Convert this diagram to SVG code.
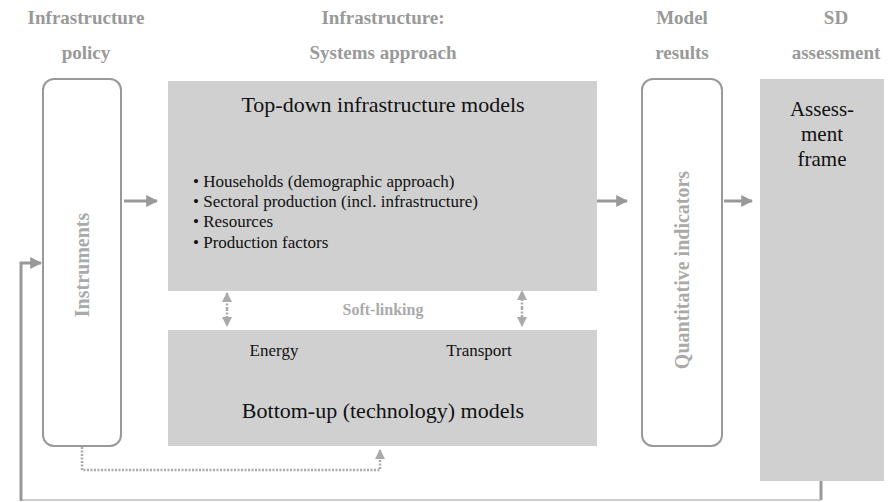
<svg xmlns="http://www.w3.org/2000/svg" width="889" height="502" viewBox="0 0 889 502">
<defs>
<marker id="ah" viewBox="0 0 10 10" refX="9" refY="5" markerWidth="4" markerHeight="4" orient="auto" markerUnits="strokeWidth">
<polygon points="0,0 10,5 0,10" fill="#999"/>
</marker>
<marker id="ahd" viewBox="0 0 10 10" refX="9" refY="5" markerWidth="4" markerHeight="4" orient="auto" markerUnits="strokeWidth">
<polygon points="0,0 10,5 0,10" fill="#aaa"/>
</marker>
</defs>
<rect width="889" height="502" fill="#fff"/>
<g id="headers" font-family="Times New Roman" font-weight="bold" font-size="19" fill="#999" text-anchor="middle">
<text x="86" y="24">Infrastructure</text>
<text x="86" y="59">policy</text>
<text x="383" y="24">Infrastructure:</text>
<text x="383" y="59">Systems approach</text>
<text x="682" y="24">Model</text>
<text x="682" y="59">results</text>
<text x="836" y="24">SD</text>
<text x="836" y="59">assessment</text>
</g>
<g id="instruments">
<rect x="43" y="79" width="78" height="367" rx="11" fill="#fff" stroke="#999" stroke-width="2"/>
<text font-family="Times New Roman" font-weight="bold" font-size="20" fill="#aaa" text-anchor="middle" transform="translate(89,265) rotate(-90)">Instruments</text>
</g>
<g id="topdown" font-family="Times New Roman" fill="#111">
<rect x="168" y="81" width="429" height="210" fill="#d0d0d0"/>
<text x="383" y="112" font-size="22" text-anchor="middle">Top-down infrastructure models</text>
<text x="193" y="187" font-size="17">• Households (demographic approach)</text>
<text x="193" y="207" font-size="17">• Sectoral production (incl. infrastructure)</text>
<text x="193" y="227" font-size="17">• Resources</text>
<text x="193" y="248" font-size="17">• Production factors</text>
</g>
<g id="bottomup" font-family="Times New Roman" fill="#111">
<rect x="168" y="330" width="429" height="116" fill="#d0d0d0"/>
<text x="274" y="356" font-size="17" text-anchor="middle">Energy</text>
<text x="479" y="356" font-size="17" text-anchor="middle">Transport</text>
<text x="383" y="418" font-size="22" text-anchor="middle">Bottom-up (technology) models</text>
</g>
<g id="softlinking">
<text font-family="Times New Roman" x="383" y="315" font-size="16" font-weight="bold" fill="#aaa" text-anchor="middle">Soft-linking</text>
</g>
<g id="quantitative">
<rect x="642" y="79" width="80" height="367" rx="11" fill="#fff" stroke="#999" stroke-width="2"/>
<text font-family="Times New Roman" font-weight="bold" font-size="20" fill="#aaa" text-anchor="middle" transform="translate(689,270) rotate(-90)">Quantitative indicators</text>
</g>
<g id="assessment" font-family="Times New Roman" fill="#111" font-size="21" text-anchor="middle">
<rect x="760" y="79" width="124" height="402" fill="#d0d0d0"/>
<text x="822" y="116">Assess-</text>
<text x="822" y="141">ment</text>
<text x="822" y="166">frame</text>
</g>
<g id="connectors" fill="none">
<line stroke="#999" stroke-width="3" x1="124" y1="201" x2="157" y2="201" marker-end="url(#ah)"/>
<line stroke="#999" stroke-width="3" x1="597" y1="201" x2="627" y2="201" marker-end="url(#ah)"/>
<line stroke="#999" stroke-width="3" x1="724" y1="201" x2="752" y2="201" marker-end="url(#ah)"/>
<g stroke="#aaa" stroke-width="2.5" stroke-dasharray="2 1.5">
<line x1="227" y1="309" x2="227" y2="293" marker-end="url(#ahd)"/>
<line x1="227" y1="309" x2="227" y2="326" marker-end="url(#ahd)"/>
<line x1="522" y1="308" x2="522" y2="291" marker-end="url(#ahd)"/>
<line x1="522" y1="308" x2="522" y2="326" marker-end="url(#ahd)"/>
<polyline points="82,447 82,470 380,470 380,450" marker-end="url(#ahd)"/>
</g>
<line stroke="#999" stroke-width="3" x1="821" y1="481" x2="821" y2="500"/>
<line stroke="#bbb" stroke-width="1.5" x1="821" y1="500" x2="21" y2="500"/>
<polyline stroke="#999" stroke-width="3" points="21,501 21,263 41,263" marker-end="url(#ah)"/>
</g>
</svg>
